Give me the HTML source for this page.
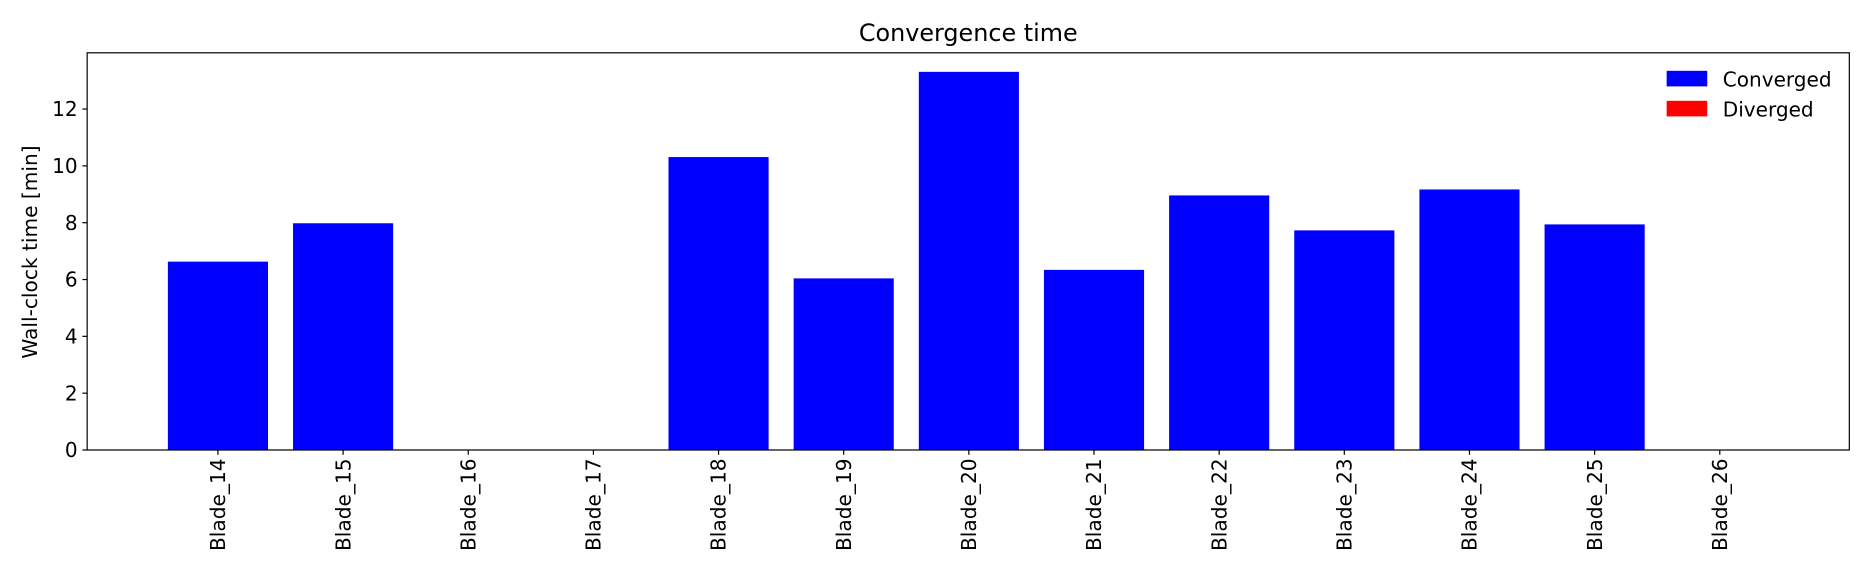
<!DOCTYPE html>
<html><head><meta charset="utf-8"><style>
html,body{margin:0;padding:0;background:#fff;}
svg{display:block;font-family:"DejaVu Sans","Liberation Sans",sans-serif;}
</style></head><body>
<svg id="chart" width="1872" height="576" viewBox="0 0 1568 480" preserveAspectRatio="none" xmlns="http://www.w3.org/2000/svg">
<text x="811" y="34" font-size="20" text-anchor="middle">Convergence time</text>
<g id="plot"></g>
<rect x="73" y="44" width="1476" height="331" fill="none" stroke="#000" stroke-width="1"/>
<text transform="translate(31,210) rotate(-90)" font-size="16.8" text-anchor="middle">Wall-clock time [min]</text>
<g>
<rect x="1396" y="59" width="34" height="13" fill="#0000ff"/>
<text x="1443" y="72" font-size="16.8">Converged</text>
<rect x="1396" y="84" width="34" height="13" fill="#ff0000"/>
<text x="1443" y="97" font-size="16.8">Diverged</text>
</g>
</svg>
<script>
const categories = ["Blade_14","Blade_15","Blade_16","Blade_17","Blade_18","Blade_19","Blade_20","Blade_21","Blade_22","Blade_23","Blade_24","Blade_25","Blade_26"];
const convergedValues = [6.63,7.98,0,0,10.31,6.04,13.31,6.34,8.96,7.73,9.17,7.94,0];
const divergedValues = [0,0,0,0,0,0,0,0,0,0,0,0,0];
const yTicks = [0,2,4,6,8,10,12];

const L=73,R=1549,T=44,B=375, xMin=-1.045, xMax=categories.length-1+1.035, yMax=13.98;
const xs=i=>L+(i-xMin)/(xMax-xMin)*(R-L);
const ys=v=>B-v/yMax*(B-T);
const bw=0.8*(R-L)/(xMax-xMin);
const NS="http://www.w3.org/2000/svg";
const g=document.getElementById('plot');
function mk(t,a){const e=document.createElementNS(NS,t);for(const k in a)e.setAttribute(k,a[k]);g.appendChild(e);return e;}
categories.forEach((c,i)=>{
  const v=convergedValues[i];
  if(v>0){
    const r=mk('rect',{x:xs(i)-bw/2,y:ys(v),width:bw,height:B-ys(v),fill:'#0000ff'});
    
    
  }
  const d=divergedValues[i];
  if(d>0){
    const r2=mk('rect',{x:xs(i)-bw/2,y:ys(v+d),width:bw,height:ys(v)-ys(v+d),fill:'#ff0000'});
    
    
  }
  const tk=mk('line',{x1:xs(i),x2:xs(i),y1:B,y2:B+4,stroke:'#000'});
  
  
  const tx=mk('text',{transform:`translate(${xs(i)+6},${B+7}) rotate(-90)`,'font-size':16.8,'text-anchor':'end'});
  tx.textContent=c;
  
  
});
yTicks.forEach(v=>{
  const tk=mk('line',{x1:L-4,x2:L,y1:ys(v),y2:ys(v),stroke:'#000'});
  
  
  const tx=mk('text',{x:L-8,y:ys(v)+6,'font-size':16.8,'text-anchor':'end'});
  tx.textContent=v;
  
  
});
</script>
</body></html>
